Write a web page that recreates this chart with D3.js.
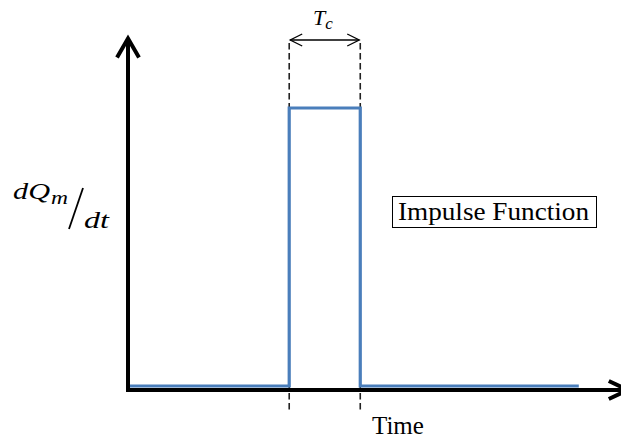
<!DOCTYPE html>
<html><head><meta charset="utf-8">
<script src="https://cdn.jsdelivr.net/npm/d3@7"></script>
<style>html,body{margin:0;padding:0;background:#fff;}svg{display:block;}
.serif{font-family:"Liberation Serif","Times New Roman",Times,serif;}</style>
</head><body>
<svg id="c" width="621" height="439"></svg>
<script>
// Data
const times  = [0, 3.29, 3.29, 4.74, 4.74, 9.2];
const values = [0, 0, 1, 1, 0, 0];
const pulseEdges = [3.29, 4.74];
const xAxisMax = 10.2;
const yAxisMax = 1.25;
const yLabel = ["dQ", "m", "dt"];
const xLabel = "Time";
const durationLabel = ["T", "c"];
const legendText = "Impulse Function";

const svg = d3.select("#c");
const x = d3.scaleLinear().domain([0, 10]).range([128, 618]);
const y = d3.scaleLinear().domain([0, 1]).range([386, 108]);

// dashed guide lines
svg.selectAll("line.guide").data(pulseEdges).join("line")
  .attr("x1", d => x(d)).attr("x2", d => x(d))
  .attr("y1", 43).attr("y2", 412)
  .attr("stroke", "#222").attr("stroke-width", 1.6)
  .attr("stroke-dasharray", "6.5,3.5");

// blue series
svg.append("path")
  .datum(times.map((t, i) => [t, values[i]]))
  .attr("d", d3.line().x(d => x(d[0])).y(d => y(d[1])))
  .attr("fill", "none").attr("stroke", "#4a7ebb").attr("stroke-width", 3.2)
  .attr("stroke-linejoin", "miter");

// axes
const ax = svg.append("g").attr("stroke", "#000").attr("stroke-width", 4)
  .attr("fill", "none").attr("stroke-linecap", "butt");
const x0 = x(0), yb = y(0) + 4;
ax.append("line").attr("x1", x0 - 2).attr("x2", x(xAxisMax) - 2).attr("y1", yb).attr("y2", yb);
ax.append("line").attr("x1", x0).attr("x2", x0).attr("y1", yb + 2).attr("y2", y(yAxisMax) + 2);
// arrow heads
const xt = x(xAxisMax);
ax.append("path").attr("d", `M${xt-19},${yb-9} L${xt},${yb} L${xt-19},${yb+9}`).attr("stroke-linejoin", "miter");
const yt = y(yAxisMax);
ax.append("path").attr("d", `M${x0-11},${yt+19} L${x0},${yt} L${x0+11},${yt+19}`).attr("stroke-linejoin", "miter");

// duration double arrow
const da = svg.append("g").attr("stroke", "#000").attr("stroke-width", 1.3).attr("fill", "none");
const ay = 40, xa = x(pulseEdges[0]) + 1, xb = x(pulseEdges[1]) - 1;
da.append("line").attr("x1", xa).attr("x2", xb).attr("y1", ay).attr("y2", ay);
da.append("path").attr("d", `M${xa+12},${ay-6} L${xa},${ay} L${xa+12},${ay+6}`);
da.append("path").attr("d", `M${xb-12},${ay-6} L${xb},${ay} L${xb-12},${ay+6}`);

const tc = svg.append("text").attr("class", "serif").attr("x", 313).attr("y", 25)
  .attr("font-style", "italic").attr("font-size", 22).attr("fill", "#000");
tc.append("tspan").text(durationLabel[0]);
tc.append("tspan").attr("font-size", 17).attr("dy", 4).text(durationLabel[1]);

// y label
const yl = svg.append("g").attr("class", "serif").attr("font-style", "italic").attr("fill", "#000");
yl.append("text").attr("x", 13).attr("y", 199).attr("font-size", 24)
  .attr("textLength", 37).attr("lengthAdjust", "spacingAndGlyphs").text(yLabel[0]);
yl.append("text").attr("x", 51).attr("y", 204).attr("font-size", 19)
  .attr("textLength", 17).attr("lengthAdjust", "spacingAndGlyphs").text(yLabel[1]);
svg.append("line").attr("x1", 69).attr("y1", 229).attr("x2", 83).attr("y2", 188)
  .attr("stroke", "#000").attr("stroke-width", 1.8);
yl.append("text").attr("x", 84).attr("y", 228).attr("font-size", 24)
  .attr("textLength", 25).attr("lengthAdjust", "spacingAndGlyphs").text(yLabel[2]);

// x label
svg.append("text").attr("class", "serif").attr("x", 372).attr("y", 434)
  .attr("font-size", 25).attr("fill", "#000").text(xLabel);

// legend box
svg.append("rect").attr("x", 392.5).attr("y", 196.5).attr("width", 204).attr("height", 31)
  .attr("fill", "#fff").attr("stroke", "#000").attr("stroke-width", 1);
svg.append("text").attr("class", "serif").attr("x", 398).attr("y", 220)
  .attr("font-size", 25).attr("textLength", 191).attr("lengthAdjust", "spacingAndGlyphs")
  .attr("fill", "#000").text(legendText);
</script>
</body></html>
